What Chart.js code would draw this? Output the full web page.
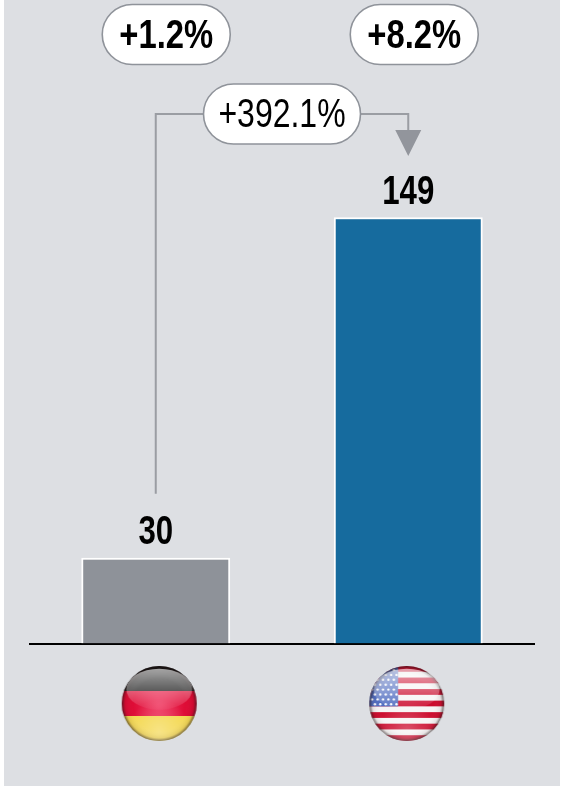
<!DOCTYPE html>
<html>
<head>
<meta charset="utf-8">
<title>Germany vs USA</title>
<script src="https://cdn.jsdelivr.net/npm/chart.js@4/dist/chart.umd.min.js"></script>
<style>
  html, body { margin: 0; padding: 0; background: #fff; }
  canvas { display: block; }
</style>
</head>
<body>
<canvas id="bars-chart" width="573" height="786"></canvas>
<script>
// Data
var countries = ['Germany', 'USA'];
var values = [30, 149];
var valueLabels = ['30', '149'];
var growthLabels = ['+1.2%', '+8.2%'];
var changeLabel = '+392.1%';

var FONT = '"Liberation Sans", Arial, sans-serif';
var LINE_GREY = '#9a9da3';

// Condensed text: the installed sans is squeezed horizontally
function narrowText(ctx, text, cx, baseline, weight, squeeze) {
  ctx.save();
  ctx.translate(cx, baseline);
  ctx.scale(squeeze, 1);
  ctx.fillStyle = '#000';
  ctx.font = weight + ' 40px ' + FONT;
  ctx.textAlign = 'center';
  ctx.textBaseline = 'alphabetic';
  ctx.fillText(text, 0, 0);
  ctx.restore();
}

function pill(ctx, cx, cy, w, h) {
  ctx.beginPath();
  ctx.roundRect(cx - w / 2, cy - h / 2, w, h, h / 2);
  ctx.fillStyle = '#fff';
  ctx.fill();
  ctx.lineWidth = 1.6;
  ctx.strokeStyle = '#8f939a';
  ctx.stroke();
}

// Shared glass look of the round flags
function gloss(ctx, x, y, r) {
  var g = ctx.createRadialGradient(x, y + 1, r * 0.7, x, y, r);
  g.addColorStop(0, 'rgba(255,255,255,0)');
  g.addColorStop(0.7, 'rgba(60,40,40,0.1)');
  g.addColorStop(1, 'rgba(30,20,20,0.65)');
  ctx.fillStyle = g;
  ctx.fillRect(x - r, y - r, r * 2, r * 2);

  ctx.beginPath();
  ctx.ellipse(x, y - r * 0.38, r * 0.88, r * 0.55, 0, 0, Math.PI * 2);
  var s = ctx.createLinearGradient(0, y - r * 0.93, 0, y + r * 0.17);
  s.addColorStop(0, 'rgba(255,255,255,0.62)');
  s.addColorStop(0.55, 'rgba(255,255,255,0.32)');
  s.addColorStop(1, 'rgba(255,255,255,0.03)');
  ctx.fillStyle = s;
  ctx.fill();

  var b = ctx.createRadialGradient(x, y + r * 0.75, 0, x, y + r * 0.75, r * 0.85);
  b.addColorStop(0, 'rgba(255,255,255,0.3)');
  b.addColorStop(1, 'rgba(255,255,255,0)');
  ctx.fillStyle = b;
  ctx.fillRect(x - r, y - r, r * 2, r * 2);
}

function flagGermany(ctx, x, y, r) {
  var h = r * 2 / 3;
  var top = y - r;
  ctx.fillStyle = '#0c0c0c';
  ctx.fillRect(x - r, top, r * 2, h);
  ctx.fillStyle = '#dc0630';
  ctx.fillRect(x - r, top + h, r * 2, h);
  ctx.fillStyle = '#f4d850';
  ctx.fillRect(x - r, top + h * 2, r * 2, h);
  // brighter middle of the red band
  var glow = ctx.createRadialGradient(x, y + 2, 2, x, y + 2, r * 0.8);
  glow.addColorStop(0, 'rgba(255,90,130,0.55)');
  glow.addColorStop(1, 'rgba(255,90,130,0)');
  ctx.fillStyle = glow;
  ctx.fillRect(x - r, top + h, r * 2, h);
  gloss(ctx, x, y, r);
}

function flagUsa(ctx, x, y, r) {
  var h = r * 2 / 13;
  var top = y - r;
  for (var i = 0; i < 13; i++) {
    ctx.fillStyle = i % 2 ? '#f6f4f4' : '#cc0a2c';
    ctx.fillRect(x - r, top + i * h, r * 2, h + 0.5);
  }
  // canton with rows of stars
  ctx.fillStyle = '#4f6cc0';
  ctx.fillRect(x - r, top, r * 0.77, h * 7);
  ctx.fillStyle = '#fff';
  for (var row = 0; row < 8; row++) {
    for (var col = 0; col < 5; col++) {
      ctx.beginPath();
      ctx.arc(x - r + 3 + col * 5.4 + (row % 2) * 2.7, top + 4 + row * 4.9, 1.2, 0, Math.PI * 2);
      ctx.fill();
    }
  }
  gloss(ctx, x, y, r);
}

// Flags are painted off-screen, then placed slightly softened
function placeFlag(ctx, paint, x, y, r) {
  var size = Math.ceil(r * 2) + 6;
  var off = document.createElement('canvas');
  off.width = size;
  off.height = size;
  var o = off.getContext('2d');
  var c = size / 2;
  o.beginPath();
  o.arc(c, c, r, 0, Math.PI * 2);
  o.clip();
  paint(o, c, c, r);
  ctx.save();
  ctx.filter = 'blur(0.6px)';
  ctx.drawImage(off, x - c, y - c);
  ctx.restore();
}

var decorations = {
  id: 'decorations',
  beforeDraw: function (chart) {
    var ctx = chart.ctx;
    ctx.save();
    ctx.fillStyle = '#dddfe3';
    ctx.fillRect(4, 0, 556, 786);
    ctx.restore();
  },
  afterDraw: function (chart) {
    var ctx = chart.ctx;
    var bars = chart.getDatasetMeta(0).data;
    var xLeft = bars[0].x;
    var xRight = bars[1].x;
    var lineY = 114;

    ctx.save();

    // connector between the two bars
    ctx.strokeStyle = LINE_GREY;
    ctx.lineWidth = 2;
    ctx.beginPath();
    ctx.moveTo(xLeft, bars[0].y - 64);
    ctx.lineTo(xLeft, lineY);
    ctx.lineTo(xRight, lineY);
    ctx.lineTo(xRight, 131);
    ctx.stroke();
    ctx.fillStyle = '#92959c';
    ctx.beginPath();
    ctx.moveTo(xRight - 13, 130);
    ctx.lineTo(xRight + 13, 130);
    ctx.lineTo(xRight, 156);
    ctx.closePath();
    ctx.fill();

    pill(ctx, 282, lineY, 157, 60);
    narrowText(ctx, changeLabel, 282, lineY + 13, 'normal', 0.8);
    pill(ctx, xLeft + 10.5, 34.5, 128, 60);
    narrowText(ctx, growthLabels[0], xLeft + 10.5, 47.5, 'bold', 0.82);
    pill(ctx, xRight + 6, 34.5, 128, 60);
    narrowText(ctx, growthLabels[1], xRight + 6, 47.5, 'bold', 0.82);

    // value labels above the bars
    bars.forEach(function (bar, i) {
      narrowText(ctx, valueLabels[i], bar.x, bar.y - 13.5, 'bold', 0.78);
    });

    // round flags under the axis
    placeFlag(ctx, flagGermany, xLeft + 3.5, 703.5, 37.5);
    placeFlag(ctx, flagUsa, xRight - 1.5, 703.5, 37.5);

    ctx.restore();
  }
};

var chartCanvas = document.getElementById('bars-chart').getContext('2d');

new Chart(chartCanvas, {
  type: 'bar',
  data: {
    labels: countries,
    datasets: [{
      data: values,
      backgroundColor: ['#8e9299', '#166b9e'],
      borderColor: '#ffffff',
      borderWidth: 2,
      borderSkipped: 'bottom',
      barPercentage: 0.59,
      categoryPercentage: 1
    }]
  },
  options: {
    responsive: false,
    animation: false,
    layout: { padding: { left: 29.5, right: 38.5, top: 0, bottom: 142.5 } },
    plugins: {
      legend: { display: false },
      tooltip: { enabled: false }
    },
    scales: {
      x: {
        grid: { display: false, drawTicks: false },
        ticks: { display: false },
        border: { display: true, color: '#000', width: 2 }
      },
      y: {
        display: false,
        min: 0,
        max: 225
      }
    }
  },
  plugins: [decorations]
});
</script>
</body>
</html>
